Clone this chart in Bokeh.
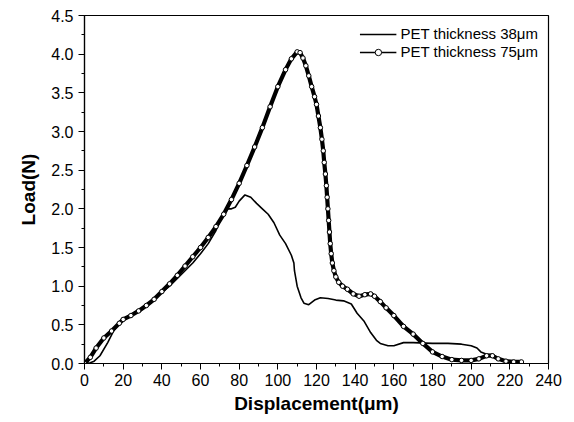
from bokeh.plotting import figure
from bokeh.models import FixedTicker, PrintfTickFormatter, Legend, LegendItem, Range1d
from bokeh.embed import file_html
from bokeh.resources import INLINE

# ---- data ----
x_38 = [0, 3, 5, 8, 12, 15, 18, 21, 24, 28, 32, 36, 40, 44, 48, 52, 56, 60, 64, 68, 72,
        74, 76, 78, 80, 83, 86, 89, 92, 95, 98, 101, 104, 107, 108.3, 108.6, 110, 112,
        113.5, 116, 119, 122, 126, 130, 134, 138, 141, 144.5, 148, 151, 153, 157, 160,
        165, 170, 180, 188, 195, 200, 203, 205, 208, 211, 214, 218, 222]
y_38 = [0, 0.01, 0.03, 0.1, 0.27, 0.42, 0.52, 0.58, 0.62, 0.68, 0.75, 0.83, 0.92, 1.0,
        1.1, 1.2, 1.3, 1.42, 1.55, 1.72, 1.95, 2.0, 2.0, 2.02, 2.1, 2.18, 2.15, 2.07,
        2.0, 1.93, 1.82, 1.66, 1.55, 1.4, 1.3, 1.2, 1.0, 0.85, 0.78, 0.76, 0.82, 0.85,
        0.84, 0.82, 0.81, 0.77, 0.65, 0.55, 0.4, 0.3, 0.26, 0.23, 0.23, 0.27, 0.27,
        0.26, 0.26, 0.25, 0.23, 0.2, 0.15, 0.12, 0.12, 0.06, 0.03, 0.01]

x_75 = [0, 3, 6, 10, 14, 18, 20, 24, 28, 32, 36, 40, 44, 48, 52, 56, 60, 64, 68, 72, 76,
        80, 84, 88, 92, 96, 100, 104, 107, 110, 111.5, 113, 114.5, 116, 117.5, 119, 120,
        121, 122, 122.8, 123.5, 124, 124.6, 125.1, 125.5, 125.9, 126.3, 126.7, 127.1,
        127.6, 128.2, 129, 130, 131.5, 133.5, 136, 139, 142, 145, 148, 150, 153, 156,
        160, 165, 170, 175, 180, 185, 190, 195, 200, 204, 208, 211, 214, 218, 222, 226]
y_75 = [0, 0.08, 0.2, 0.33, 0.42, 0.52, 0.57, 0.62, 0.68, 0.75, 0.83, 0.93, 1.03, 1.14,
        1.26, 1.38, 1.5, 1.63, 1.77, 1.93, 2.12, 2.33, 2.56, 2.8, 3.05, 3.32, 3.58,
        3.8, 3.94, 4.03, 4.02, 3.95, 3.85, 3.72, 3.58, 3.45, 3.35, 3.2, 3.05, 2.9, 2.75,
        2.6, 2.45, 2.3, 2.15, 2.0, 1.85, 1.7, 1.55, 1.42, 1.3, 1.2, 1.12, 1.05, 1.0,
        0.96, 0.9, 0.87, 0.89, 0.9, 0.87, 0.8, 0.72, 0.62, 0.48, 0.38, 0.26, 0.15, 0.09,
        0.05, 0.04, 0.04, 0.06, 0.1, 0.1, 0.06, 0.03, 0.02, 0.02]

x_ticks = [0, 20, 40, 60, 80, 100, 120, 140, 160, 180, 200, 220, 240]
y_ticks = [0.0, 0.5, 1.0, 1.5, 2.0, 2.5, 3.0, 3.5, 4.0, 4.5]
label_38 = "PET thickness 38\u03bcm"
label_75 = "PET thickness 75\u03bcm"

FONT = "Liberation Sans"

p = figure(width=566, height=420, output_backend="svg", toolbar_location=None,
           x_range=Range1d(0, 240), y_range=Range1d(0, 4.5),
           min_border_left=84, min_border_right=18, min_border_top=15, min_border_bottom=57)
p.background_fill_color = "white"
p.border_fill_color = "white"
p.outline_line_color = "black"
p.outline_line_width = 1.2
p.xgrid.visible = False
p.ygrid.visible = False

# curves
p.line(x_38, y_38, line_color="black", line_width=1.6)
p.line(x_75, y_75, line_color="black", line_width=4.2)
p.scatter(x_75, y_75, marker="circle", size=4.5, fill_color="white",
          line_color="black", line_width=1)

# legend proxies (thin), placed outside the visible range
l38 = p.line([-100, -90], [-1, -1], line_color="black", line_width=1.4)
l75 = p.line([-100, -90], [-1, -1], line_color="black", line_width=1.4)
s75 = p.scatter([-100], [-1], marker="circle", size=6, fill_color="white",
                line_color="black", line_width=1)
legend = Legend(items=[LegendItem(label=label_38, renderers=[l38]),
                       LegendItem(label=label_75, renderers=[l75, s75])],
                location="top_right", border_line_alpha=0, background_fill_alpha=0,
                label_text_font=FONT, label_text_font_size="15px",
                label_text_color="black",
                glyph_width=37, glyph_height=16, label_height=16, label_standoff=4,
                spacing=1, padding=5, margin=5)
p.add_layout(legend)

for ax, ticks in ((p.xaxis[0], x_ticks), (p.yaxis[0], y_ticks)):
    ax.ticker = FixedTicker(ticks=ticks,
                            minor_ticks=[(a + b) / 2 for a, b in zip(ticks[:-1], ticks[1:])])
    ax.axis_line_color = "black"
    ax.axis_line_width = 1.2
    ax.major_tick_line_color = "black"
    ax.minor_tick_line_color = "black"
    ax.major_tick_out = 6
    ax.major_tick_in = 0
    ax.minor_tick_out = 3
    ax.minor_tick_in = 0
    ax.major_label_text_font = FONT
    ax.major_label_text_font_size = "16px"
    ax.major_label_text_color = "black"
    ax.axis_label_text_font = FONT
    ax.axis_label_text_font_style = "bold"
    ax.axis_label_text_font_size = "19px"
    ax.axis_label_text_color = "black"

p.yaxis[0].formatter = PrintfTickFormatter(format="%.1f")
p.xaxis[0].axis_label = "Displacement(\u03bcm)"
p.yaxis[0].axis_label = "Load(N)"
p.xaxis[0].major_label_standoff = 4
p.yaxis[0].major_label_standoff = 5
p.xaxis[0].axis_label_standoff = 4
p.yaxis[0].axis_label_standoff = 9

open("out.html", "w").write(file_html(p, INLINE))
